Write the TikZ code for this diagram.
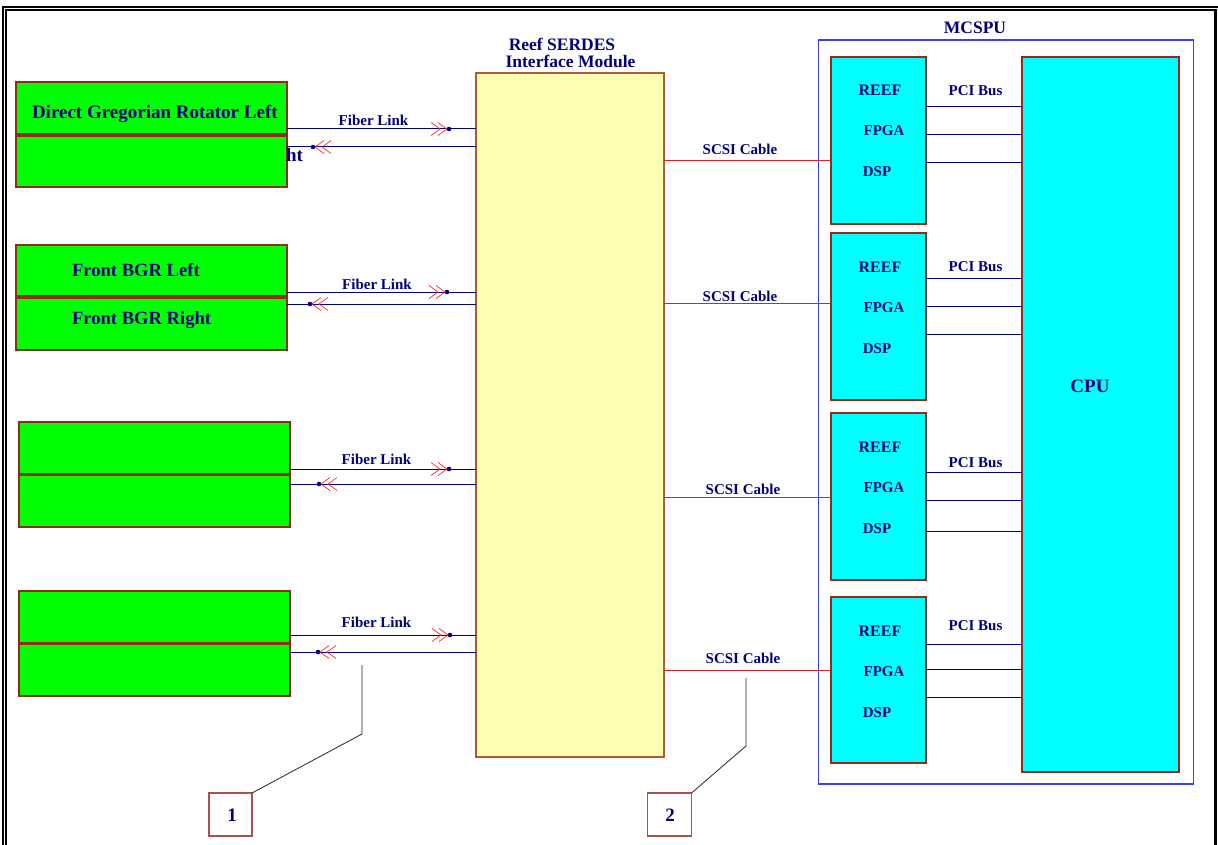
\documentclass[tikz,border=0pt]{standalone}
\usepackage{fontspec}
\setmainfont{Liberation Serif}
\usetikzlibrary{fit,decorations.markings}
\definecolor{navy}{RGB}{0,0,128}
\definecolor{boxred}{RGB}{150,40,30}
\definecolor{ybord}{RGB}{176,90,60}
\definecolor{gfill}{RGB}{0,255,0}
\definecolor{yfill}{RGB}{255,255,178}
\definecolor{cfill}{RGB}{0,255,255}
\definecolor{mcblue}{RGB}{60,60,255}
\definecolor{scsired}{RGB}{225,30,40}
\definecolor{chevred}{RGB}{255,40,40}
\newcommand\myfA{\bfseries\fontsize{19}{22}\selectfont}
\newcommand\myfB{\bfseries\fontsize{18.6}{22}\selectfont}
\newcommand\myfC{\bfseries\fontsize{15}{18}\selectfont}
\newcommand\myfD{\bfseries\fontsize{17.5}{21}\selectfont}
\newcommand\myfE{\bfseries\fontsize{16}{19}\selectfont}
\newcommand\fibdeco{%
  \fill[navy] (0pt,0pt) circle (2.3pt);
  \draw[chevred,line width=0.7pt] (-11pt,6.5pt) -- (-2pt,0pt) -- (-11pt,-6.5pt);
  \draw[chevred,line width=0.7pt] (-18pt,6.5pt) -- (-9pt,0pt) -- (-18pt,-6.5pt);}
\begin{document}
\begin{tikzpicture}[x=1pt,y=-1pt,
  box/.style={inner sep=0pt, outer sep=0pt, line width=1.1pt},
  greenbox/.style={box, draw=boxred, fill=gfill},
  yellowbox/.style={box, draw=ybord, fill=yfill},
  cyanbox/.style={box, draw=boxred, fill=cfill},
  groupbox/.style={box, draw=mcblue, line width=1.3pt},
  numbox/.style={box, draw=boxred!80, fill=white, text=navy, font=\myfA},
  lab/.style={text=navy, inner sep=0pt, outer sep=0pt, anchor=base},
  fib/.style={draw=navy, line width=1pt},
  scsi/.style={draw=scsired, line width=0.9pt},
  pci/.style={draw=navy, line width=1pt},
  callout/.style={draw=black!85, line width=0.8pt},
  frame/.style={draw=black, line width=2.2pt},
  fwd/.style={postaction={decorate,decoration={markings,mark=at position -#1pt with {\fibdeco}}}}
]
\useasboundingbox (0,0) rectangle (1218,845);
% double frame
\draw[frame] (2.7,845) -- (2.7,6.7) -- (1218,6.7);
\draw[frame] (6.2,845) -- (6.2,10.3) -- (1215.5,10.3) -- (1215.5,845);

% green boxes
\node[greenbox, fit={(16,82) (287,134)}] (g1a) {};
\node[greenbox, fit={(16,136) (287,187)}] (g1b) {};
\node[greenbox, fit={(16,245) (287,296)}] (g2a) {};
\node[greenbox, fit={(16,298) (287,350)}] (g2b) {};
\node[greenbox, fit={(19,422) (290,474)}] (g3a) {};
\node[greenbox, fit={(19,475) (290,527)}] (g3b) {};
\node[greenbox, fit={(19,591) (290,643)}] (g4a) {};
\node[greenbox, fit={(19,644) (290,696)}] (g4b) {};
\node[lab, anchor=base west, font=\myfA] (t1a) at (32,119) {Direct Gregorian Rotator Left};
\node[lab, anchor=base west, font=\myfA] (t1b) at (286,161.5) {ht};
\node[lab, anchor=base west, font=\myfB] (t2a) at (72,276) {Front BGR Left};
\node[lab, anchor=base west, font=\myfB] (t2b) at (72,324) {Front BGR Right};

% SERDES module
\node[yellowbox, fit={(476,73) (664,757)}] (sr) {};
\node[lab, font=\myfD] (srt1) at (562,51) {Reef SERDES};
\node[lab, font=\myfD] (srt2) at (570.5,68) {Interface Module};

% MCSPU
\node[groupbox, fit={(818.5,40) (1193.5,784)}] (mc) {};
\node[lab, font=\myfD] (mct) at (975,34) {MCSPU};
\node[cyanbox, fit={(831,57) (926,224)}] (r1) {};
\node[cyanbox, fit={(831,233) (926,400)}] (r2) {};
\node[cyanbox, fit={(831,413) (926,580)}] (r3) {};
\node[cyanbox, fit={(831,597) (926,763)}] (r4) {};
\node[cyanbox, fit={(1022,57) (1179,772)}] (cpu) {};
\node[lab, font=\myfA] (cput) at (1090,392) {CPU};

\foreach \n/\t in {1/57,2/233,3/413,4/597}{
  \node[lab, font=\myfE] (reef\n) at (880,\t+39) {REEF};
  \node[lab, font=\myfC] (fpga\n) at (884,\t+79) {FPGA};
  \node[lab, font=\myfC] (dsp\n) at (877,\t+120) {DSP};
}
\foreach \n/\b in {1/96,2/271,3/467,4/630}{
  \node[lab, font=\myfC] (pcit\n) at (975.5,\b) {PCI Bus};
}

% fiber links
\draw[fib, fwd=27] (g1a.east |- 0,129) -- (sr.west |- 0,129);
\draw[fib, fwd=26] (sr.west |- 0,147) -- (g1b.east |- 0,147);
\draw[fib, fwd=29] (g2a.east |- 0,292) -- (sr.west |- 0,292);
\draw[fib, fwd=23] (sr.west |- 0,304) -- (g2b.east |- 0,304);
\draw[fib, fwd=27] (g3a.east |- 0,469) -- (sr.west |- 0,469);
\draw[fib, fwd=29] (sr.west |- 0,484) -- (g3b.east |- 0,484);
\draw[fib, fwd=26] (g4a.east |- 0,635) -- (sr.west |- 0,635);
\draw[fib, fwd=28] (sr.west |- 0,652) -- (g4b.east |- 0,652);
\node[lab, font=\myfC] (fl1) at (373.5,126) {Fiber Link};
\node[lab, font=\myfC] (fl2) at (377,289) {Fiber Link};
\node[lab, font=\myfC] (fl3) at (376.5,464) {Fiber Link};
\node[lab, font=\myfC] (fl4) at (376.5,627) {Fiber Link};

% SCSI cables
\draw[scsi] (sr.east |- 0,160) -- (r1.west |- 0,160);
\draw[scsi] (sr.east |- 0,303) -- (r2.west |- 0,303);
\draw[scsi] (sr.east |- 0,497) -- (r3.west |- 0,497);
\draw[scsi] (sr.east |- 0,670) -- (r4.west |- 0,670);
\node[lab, font=\myfC] (sc1) at (740,155) {SCSI Cable};
\node[lab, font=\myfC] (sc2) at (740,301) {SCSI Cable};
\node[lab, font=\myfC] (sc3) at (743,494) {SCSI Cable};
\node[lab, font=\myfC] (sc4) at (743,663) {SCSI Cable};

% PCI buses
\foreach \n/\ya/\yb/\yc in {1/107/135/163, 2/278/306/334, 3/472/500/531, 4/644/669/697}{
  \draw[pci] (r\n.east |- 0,\ya) -- (cpu.west |- 0,\ya);
  \draw[pci] (r\n.east |- 0,\yb) -- (cpu.west |- 0,\yb);
  \draw[pci] (r\n.east |- 0,\yc) -- (cpu.west |- 0,\yc);
}

% callouts
\node[numbox, fit={(209,793) (252,836)}, text height=0pt] (c1) {};
\node[numbox, fit={(647.5,793) (691.5,836)}] (c2) {};
\node[lab, font=\myfA] (c1t) at (232,821.5) {1};
\node[lab, font=\myfA] (c2t) at (670,821.5) {2};
\coordinate (p1) at (362,665);
\coordinate (p2) at (746,678);
\draw[callout] (p1) -- (362,734) -- (c1.north east);
\draw[callout] (p2) -- (746,746) -- (c2.north east);
\end{tikzpicture}
\end{document}
